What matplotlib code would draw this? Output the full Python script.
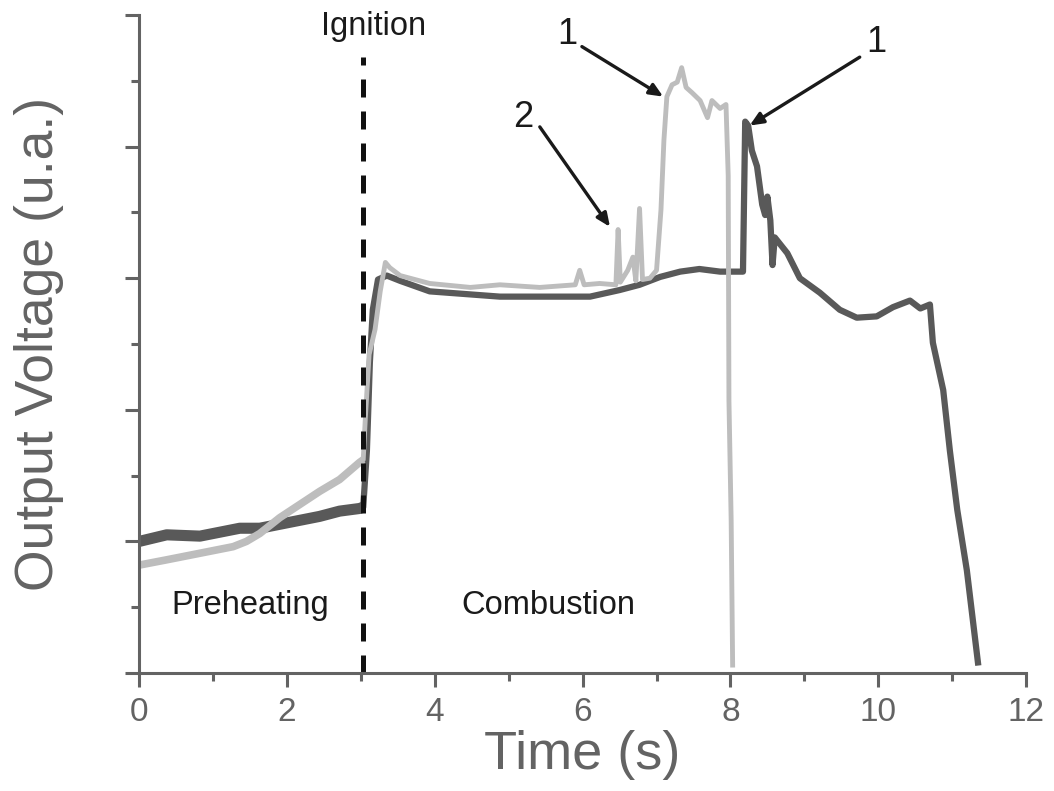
import numpy as np
import matplotlib.pyplot as plt
from matplotlib.ticker import MultipleLocator, NullFormatter

plt.rcParams['font.family'] = ['Liberation Sans', 'DejaVu Sans']

# dark trace
t_dark = [0.00, 0.37, 0.82, 1.09, 1.36, 1.63, 1.90, 2.17, 2.44, 2.71, 2.98, 3.03,
          3.08, 3.12, 3.16, 3.23, 3.35, 3.53, 3.93, 4.88, 6.10, 6.50, 6.77, 7.05,
          7.32, 7.58, 7.86, 8.17, 8.20, 8.24, 8.29, 8.36, 8.43, 8.47, 8.50, 8.54,
          8.57, 8.60, 8.77, 8.94, 9.21, 9.48, 9.71, 9.98, 10.20, 10.43, 10.57,
          10.70, 10.74, 10.88, 10.97, 11.07, 11.20, 11.35]
v_dark = [1.00, 1.05, 1.04, 1.07, 1.10, 1.10, 1.13, 1.16, 1.19, 1.23, 1.25, 1.26,
          1.69, 2.36, 2.76, 2.99, 3.02, 2.98, 2.90, 2.86, 2.86, 2.91, 2.95, 3.01,
          3.05, 3.07, 3.05, 3.05, 4.19, 4.16, 3.97, 3.85, 3.56, 3.48, 3.62, 3.44,
          3.10, 3.31, 3.19, 3.00, 2.89, 2.76, 2.70, 2.71, 2.78, 2.83, 2.77,
          2.80, 2.51, 2.15, 1.69, 1.24, 0.78, 0.08]

# light trace
t_light = [0.00, 0.37, 0.82, 1.27, 1.45, 1.63, 1.90, 2.17, 2.44, 2.71, 2.98, 3.03,
           3.06, 3.11, 3.19, 3.26, 3.33, 3.39, 3.53, 3.93, 4.48, 4.88, 5.42, 5.90,
           5.96, 6.02, 6.23, 6.45, 6.48, 6.51, 6.61, 6.68, 6.72, 6.77, 6.81, 6.91,
           7.00, 7.06, 7.10, 7.14, 7.21, 7.28, 7.34, 7.40, 7.48, 7.59, 7.69, 7.75,
           7.86, 7.94, 7.97, 7.98, 8.01, 8.03]
v_light = [0.82, 0.86, 0.91, 0.96, 1.00, 1.06, 1.18, 1.28, 1.38, 1.47, 1.60, 1.62,
           1.95, 2.42, 2.61, 2.90, 3.12, 3.08, 3.02, 2.96, 2.93, 2.95, 2.93, 2.95,
           3.06, 2.95, 2.96, 2.95, 3.37, 2.97, 3.06, 3.16, 2.98, 3.53, 2.99, 3.00,
           3.06, 3.52, 4.05, 4.38, 4.47, 4.49, 4.60, 4.45, 4.41, 4.35, 4.22, 4.35,
           4.29, 4.32, 3.78, 2.07, 1.16, 0.06]

ignition_t = 3.03

t_dark = np.array(t_dark)
v_dark = np.array(v_dark)
t_light = np.array(t_light)
v_light = np.array(v_light)

fig = plt.figure(figsize=(10.54, 7.91), dpi=100)
ax = fig.add_axes([0.1322, 0.1492, 0.8412, 0.8318])

dark = '#595959'
light = '#bdbdbd'
axis_grey = '#636363'

# preheating part is noisier -> thicker band
pre_d = t_dark <= ignition_t
pre_l = t_light <= ignition_t
ax.plot(t_dark[pre_d], v_dark[pre_d], color=dark, lw=8, solid_capstyle='butt')
ax.plot(t_dark, v_dark, color=dark, lw=4.5)
ax.plot(t_light[pre_l], v_light[pre_l], color=light, lw=5.5, solid_capstyle='butt')
ax.plot(t_light, v_light, color=light, lw=3.5)

ax.plot([ignition_t, ignition_t], [0, 4.68], color='#111111', lw=3.6,
        dashes=(3.6, 2.8))

txt = '#1a1a1a'
ax.text(ignition_t + 0.14, 4.91, 'Ignition', fontsize=23.5, color=txt, ha='center', va='center')
ax.text(1.50, 0.51, 'Preheating', fontsize=23.5, color=txt, ha='center', va='center')
ax.text(5.53, 0.51, 'Combustion', fontsize=23.5, color=txt, ha='center', va='center')

arrow = dict(arrowstyle='-|>,head_length=0.8,head_width=0.35', color='#1a1a1a', lw=2.4,
             shrinkA=0, shrinkB=0)
ax.annotate('', xy=(7.09, 4.38), xytext=(5.99, 4.76), arrowprops=arrow)
ax.text(5.79, 4.85, '1', fontsize=26, color=txt, ha='center', va='center')
ax.annotate('', xy=(6.37, 3.39), xytext=(5.42, 4.15), arrowprops=arrow)
ax.text(5.19, 4.22, '2', fontsize=26, color=txt, ha='center', va='center')
ax.annotate('', xy=(8.26, 4.16), xytext=(9.75, 4.68), arrowprops=arrow)
ax.text(9.98, 4.79, '1', fontsize=26, color=txt, ha='center', va='center')

ax.set_xlim(0, 12)
ax.set_ylim(0, 5)
ax.xaxis.set_major_locator(MultipleLocator(2))
ax.xaxis.set_minor_locator(MultipleLocator(1))
ax.yaxis.set_major_locator(MultipleLocator(1))
ax.yaxis.set_minor_locator(MultipleLocator(0.5))
ax.yaxis.set_major_formatter(NullFormatter())

for s in ['top', 'right']:
    ax.spines[s].set_visible(False)
for s in ['left', 'bottom']:
    ax.spines[s].set_color(axis_grey)
    ax.spines[s].set_linewidth(2.2)

ax.tick_params(which='major', direction='out', length=10, width=2.2, color=axis_grey,
               labelsize=24, labelcolor=axis_grey, pad=7)
ax.tick_params(which='minor', direction='out', length=5.5, width=2.2, color=axis_grey)

ax.set_xlabel('Time (s)', fontsize=39, color=axis_grey, labelpad=2)
ax.set_ylabel('Output Voltage (u.a.)', fontsize=38.5, color=axis_grey, labelpad=37)

plt.savefig('out.png', dpi=100)
